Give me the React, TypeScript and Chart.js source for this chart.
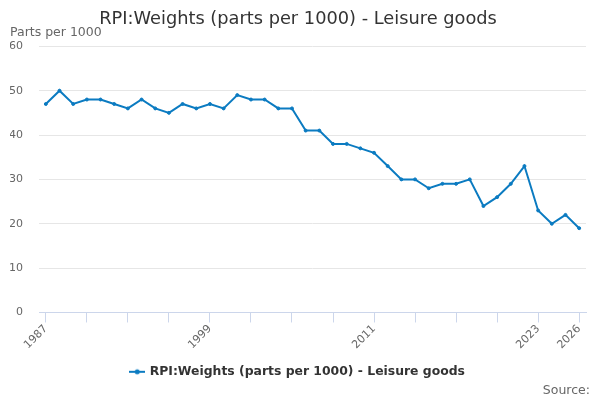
import { useEffect, useRef } from 'react';
import { Chart, registerables } from 'chart.js';

Chart.register(...registerables);

const years = [
	'1987', '1988', '1989', '1990', '1991', '1992', '1993', '1994', '1995', '1996',
	'1997', '1998', '1999', '2000', '2001', '2002', '2003', '2004', '2005', '2006',
	'2007', '2008', '2009', '2010', '2011', '2012', '2013', '2014', '2015', '2016',
	'2017', '2018', '2019', '2020', '2021', '2022', '2023', '2024', '2025', '2026',
];
const weights = [
	47, 50, 47, 48, 48, 47, 46, 48, 46, 45,
	47, 46, 47, 46, 49, 48, 48, 46, 46, 41,
	41, 38, 38, 37, 36, 33, 30, 30, 28, 29,
	29, 30, 24, 26, 29, 33, 23, 20, 22, 19,
];
const shownYears = ['1987', '1999', '2011', '2023', '2026'];
const yTicks = [0, 10, 20, 30, 40, 50, 60];

const seriesName = 'RPI:Weights (parts per 1000) - Leisure goods';
const lineColor = '#0b7bc1';
const font = "'DejaVu Sans', sans-serif";

// legend marker: short line with a dot in the middle
const makeMarker = () => {
	const c = document.createElement('canvas');
	c.width = 16;
	c.height = 10;
	const g = c.getContext('2d')!;
	g.strokeStyle = lineColor;
	g.lineWidth = 2;
	g.beginPath();
	g.moveTo(0, 5);
	g.lineTo(16, 5);
	g.stroke();
	g.fillStyle = lineColor;
	g.beginPath();
	g.arc(8, 5, 2.5, 0, Math.PI * 2);
	g.fill();
	return c;
};

const sourcePlugin = {
	id: 'sourceText',
	afterDraw(chart: Chart) {
		const { ctx, width, height } = chart;
		ctx.save();
		ctx.font = `12.5px ${font}`;
		ctx.fillStyle = '#666666';
		ctx.textAlign = 'right';
		ctx.textBaseline = 'middle';
		ctx.fillText('Source:', width - 10, height - 9);
		ctx.restore();
	},
};

const App = () => {
	const chartRef = useRef<HTMLCanvasElement>(null);
	const chartInstanceRef = useRef<Chart | null>(null);

	useEffect(() => {
		if (!chartRef.current) return;
		if (chartInstanceRef.current) chartInstanceRef.current.destroy();

		chartInstanceRef.current = new Chart(chartRef.current, {
			type: 'line',
			data: {
				labels: years,
				datasets: [
					{
						label: seriesName,
						data: weights,
						borderColor: lineColor,
						backgroundColor: lineColor,
						borderWidth: 2,
						pointRadius: 1.5,
						pointBorderWidth: 1,
						pointHoverRadius: 3,
						pointStyle: 'circle',
						tension: 0,
					},
				],
			},
			options: {
				animation: false,
				responsive: true,
				maintainAspectRatio: false,
				layout: { padding: { left: 10, right: 14, top: 5, bottom: 12 } },
				plugins: {
					title: {
						display: true,
						text: seriesName,
						color: '#333333',
						font: { family: font, size: 17.8, weight: 'normal', lineHeight: 1 },
						padding: { top: 5, bottom: -1 },
					},
					subtitle: {
						display: true,
						text: 'Parts per 1000',
						align: 'start',
						color: '#666666',
						font: { family: font, size: 12.5, lineHeight: 1 },
						padding: { top: 0, bottom: 7 },
					},
					legend: {
						position: 'bottom',
						labels: {
							usePointStyle: true,
							pointStyle: makeMarker() as any,
							color: '#333333',
							font: { family: font, size: 12.4, weight: 'bold' },
							padding: 14,
						},
					},
					tooltip: { enabled: false },
				},
				scales: {
					x: {
						offset: true,
						grid: {
							offset: false,
							drawOnChartArea: false,
							tickLength: 10,
							color: (ctx: any) => (ctx.index % 3 === 0 ? '#ccd6eb' : 'rgba(0,0,0,0)'),
						},
						border: { color: '#ccd6eb' },
						ticks: {
							autoSkip: false,
							minRotation: 45,
							maxRotation: 45,
							color: '#666666',
							font: { family: font, size: 11 },
							padding: 0,
							callback: (_v: any, i: number) => (shownYears.includes(years[i]) ? years[i] : ''),
						},
					},
					y: {
						min: yTicks[0],
						max: yTicks[yTicks.length - 1],
						afterBuildTicks: (axis: any) => {
							axis.ticks = yTicks.map((v) => ({ value: v }));
						},
						afterFit: (axis: any) => {
							axis.width = 29;
						},
						grid: { color: '#e6e6e6', drawTicks: false },
						border: { display: false },
						ticks: {
							color: '#666666',
							font: { family: font, size: 11 },
							padding: 16,
						},
					},
				},
			},
			plugins: [sourcePlugin],
		});

		return () => {
			if (chartInstanceRef.current) {
				chartInstanceRef.current.destroy();
				chartInstanceRef.current = null;
			}
		};
	}, []);

	return (
		<div style={{ position: 'fixed', left: 0, top: 0, width: 600, height: 400, background: '#fff' }}>
			<canvas ref={chartRef} />
		</div>
	);
};

export default App;
